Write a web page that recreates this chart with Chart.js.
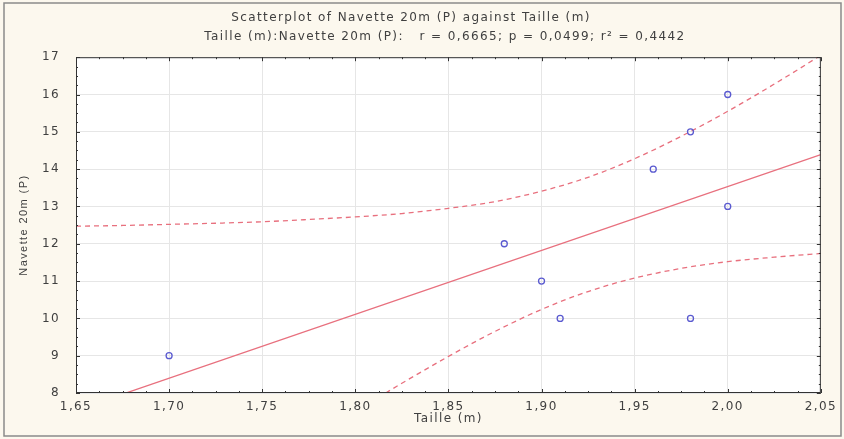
<!DOCTYPE html>
<html>
<head>
<meta charset="utf-8">
<script src="https://cdn.jsdelivr.net/npm/chart.js@4.4.0/dist/chart.umd.min.js"></script>
<style>
  html, body { margin: 0; padding: 0; background: #fcf8ee; }
  #wrap { width: 844px; height: 439px; position: relative; }
</style>
</head>
<body>
<div id="wrap"><canvas id="scatter"></canvas></div>
<script>
// observed points: Taille (m) vs Navette 20m (P)
const taille = [1.70, 1.88, 1.90, 1.91, 1.96, 1.98, 1.98, 2.00, 2.00];
const navette = [9, 12, 11, 10, 14, 15, 10, 16, 13];

// fitted line end points
const fitX = [1.65, 2.05];
const fitY = [7.54, 14.39];

// 95% band
const bandX = [1.65, 1.675, 1.70, 1.725, 1.75, 1.775, 1.80, 1.825, 1.85, 1.875, 1.90, 1.925, 1.95, 1.975, 2.00, 2.025, 2.05];
const bandUp = [12.47, 12.49, 12.52, 12.55, 12.59, 12.65, 12.72, 12.81, 12.95, 13.13, 13.41, 13.78, 14.28, 14.88, 15.55, 16.28, 17.05];
const bandLow = [2.62, 3.45, 4.28, 5.10, 5.91, 6.72, 7.50, 8.26, 8.98, 9.65, 10.24, 10.72, 11.08, 11.34, 11.52, 11.64, 11.74];

const xTicks = [1.65, 1.70, 1.75, 1.80, 1.85, 1.90, 1.95, 2.00, 2.05];

const lineCol = '#e8707e';
const pointCol = '#5a5ad0';
const txtCol = '#404040';
const fam = 'DejaVu Sans, Verdana, sans-serif';

const pts = (xs, ys) => xs.map((x, i) => ({ x: x, y: ys[i] }));

// the source text is drawn wide, so space the letters out a bit
const spacing = {
  id: 'spacing',
  beforeUpdate(chart) { chart.ctx.letterSpacing = '1.4px'; },
  beforeDraw(chart) { chart.ctx.letterSpacing = '1.4px'; }
};

// frame + minor ticks + outer border
const decor = {
  id: 'decor',
  beforeDraw(chart) {
    const c = chart.ctx;
    c.save();
    c.fillStyle = '#fcf8ee';
    c.fillRect(0, 0, chart.width, chart.height);
    c.strokeStyle = '#8a8a8a';
    c.lineWidth = 1.5;
    c.strokeRect(4, 3, chart.width - 7, chart.height - 6);
    const a = chart.chartArea;
    c.fillStyle = '#ffffff';
    c.fillRect(a.left, a.top, a.right - a.left, a.bottom - a.top);
    c.restore();
  },
  afterDatasetsDraw(chart) {
    const c = chart.ctx;
    const a = chart.chartArea;
    const xs = chart.scales.x, ys = chart.scales.y;
    c.save();
    c.strokeStyle = '#333';
    c.lineWidth = 1;
    c.strokeRect(a.left + 0.5, a.top + 0.5, a.right - a.left - 1, a.bottom - a.top - 1);
    c.beginPath();
    for (let v = 1.65; v <= 2.0501; v += 0.0125) {
      const px = Math.round(xs.getPixelForValue(v)) + 0.5;
      const major = Math.abs(v * 20 - Math.round(v * 20)) < 1e-6;
      const len = major ? 4 : 2;
      c.moveTo(px, a.bottom); c.lineTo(px, a.bottom - len);
      c.moveTo(px, a.top); c.lineTo(px, a.top + len);
    }
    for (let v = 8; v <= 17.001; v += 0.25) {
      const py = Math.round(ys.getPixelForValue(v)) + 0.5;
      const major = Math.abs(v - Math.round(v)) < 1e-6;
      const len = major ? 4 : 2;
      c.moveTo(a.left, py); c.lineTo(a.left + len, py);
      c.moveTo(a.right, py); c.lineTo(a.right - len, py);
    }
    c.stroke();
    c.restore();
  }
};

new Chart(document.getElementById('scatter'), {
  type: 'scatter',
  data: {
    datasets: [
      {
        label: 'Navette 20m (P)',
        data: pts(taille, navette),
        showLine: false,
        pointStyle: 'circle',
        pointRadius: 3,
        pointBorderWidth: 1.3,
        pointBorderColor: pointCol,
        pointBackgroundColor: 'rgba(0,0,0,0)',
        order: 0
      },
      {
        label: 'fit',
        data: pts(fitX, fitY),
        showLine: true,
        borderColor: lineCol,
        borderWidth: 1.3,
        pointRadius: 0,
        order: 1
      },
      {
        label: 'upper',
        data: pts(bandX, bandUp),
        showLine: true,
        borderColor: lineCol,
        borderWidth: 1.3,
        borderDash: [5, 4],
        pointRadius: 0,
        cubicInterpolationMode: 'monotone',
        order: 2
      },
      {
        label: 'lower',
        data: pts(bandX, bandLow),
        showLine: true,
        borderColor: lineCol,
        borderWidth: 1.3,
        borderDash: [5, 4],
        pointRadius: 0,
        cubicInterpolationMode: 'monotone',
        order: 3
      }
    ]
  },
  options: {
    responsive: true,
    maintainAspectRatio: false,
    animation: false,
    layout: { padding: { left: 0, right: 22, top: 0, bottom: 0 } },
    plugins: {
      legend: { display: false },
      tooltip: { enabled: false },
      title: {
        display: true,
        // leading spaces push the second line right, as in the source
        text: [
          'Scatterplot of Navette 20m (P) against Taille (m)',
          '             Taille (m):Navette 20m (P):   r = 0,6665; p = 0,0499; r\u00b2 = 0,4442'
        ],
        color: txtCol,
        font: { family: fam, size: 12, weight: 'normal', lineHeight: 1.55 },
        padding: { top: 9, bottom: 11 }
      }
    },
    scales: {
      x: {
        type: 'linear',
        min: 1.65,
        max: 2.05,
        afterBuildTicks: (s) => { s.ticks = xTicks.map(v => ({ value: v })); },
        afterFit: (s) => { s.height = 46; },
        ticks: {
          color: txtCol,
          padding: 7,
          maxRotation: 0,
          font: { family: fam, size: 12 },
          callback: (v) => v.toFixed(2).replace('.', ',')
        },
        grid: { color: '#e6e6e6', drawTicks: false },
        border: { display: false },
        title: {
          display: true,
          text: 'Taille (m)',
          color: txtCol,
          padding: { top: 2, bottom: 13 },
          font: { family: fam, size: 12 }
        }
      },
      y: {
        type: 'linear',
        min: 8,
        max: 17,
        afterFit: (s) => { s.width = 76; },
        ticks: {
          stepSize: 1,
          color: txtCol,
          padding: 16,
          font: { family: fam, size: 12 }
        },
        grid: { color: '#e6e6e6', drawTicks: false },
        border: { display: false },
        title: {
          display: true,
          text: 'Navette 20m (P)',
          color: txtCol,
          padding: { top: 17, bottom: 0 },
          font: { family: 'Liberation Sans Narrow, Arial Narrow, sans-serif', size: 11 }
        }
      }
    }
  },
  plugins: [spacing, decor]
});
</script>
</body>
</html>
